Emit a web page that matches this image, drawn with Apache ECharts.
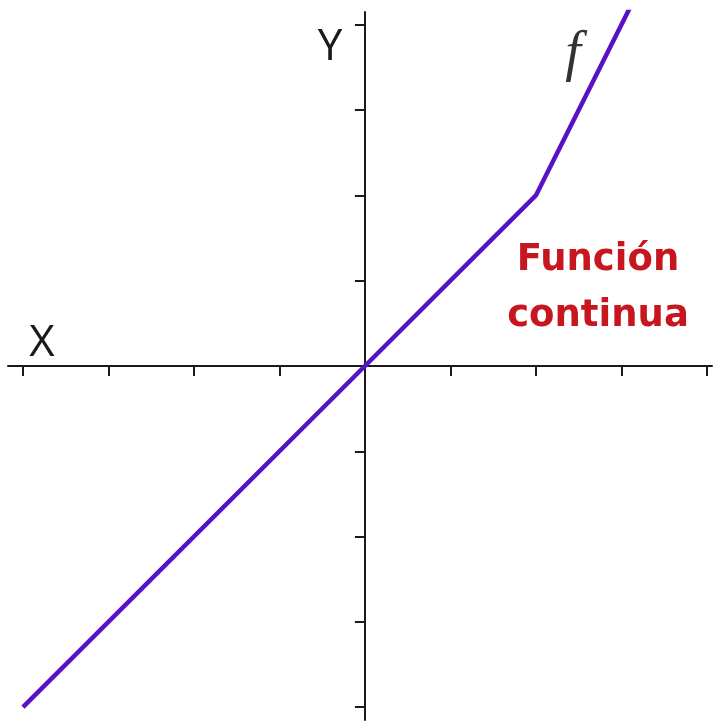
<!DOCTYPE html>
<html>
<head>
<meta charset="utf-8">
<script src="https://cdn.jsdelivr.net/npm/echarts@6/dist/echarts.min.js"></script>
<style>html,body{margin:0;padding:0;background:#fff}#c{width:714px;height:723px}</style>
</head>
<body>
<div id="c"></div>
<script>
const xValues = [-4, 0, 2, 3.1];
const yValues = [-4, 0, 2, 4.2];
const tickValues = [-4, -3, -2, -1, 1, 2, 3, 4];
const axisNames = ['X', 'Y'];
const curveName = 'f';
const titleLines = ['Función', 'continua'];

const chart = echarts.init(document.getElementById('c'));
const axisCommon = {
  type: 'value',
  splitLine: {show: false},
  axisLabel: {show: false},
  axisLine: {show: true, onZero: true, lineStyle: {color: '#1a1a1a', width: 2}},
  axisTick: {show: true, length: 10, customValues: tickValues, lineStyle: {color: '#1a1a1a', width: 2}}
};
function txt(x, y, text, font, fill) {
  return {type: 'text', x: x, y: y, style: {text: text, font: font, fill: fill, align: 'center', verticalAlign: 'middle'}};
}
chart.setOption({
  animation: false,
  backgroundColor: '#ffffff',
  grid: {left: 8, right: 2, top: 12, bottom: 3},
  xAxis: Object.assign({}, axisCommon, {min: -4.175, max: 4.06}),
  yAxis: Object.assign({}, axisCommon, {min: -4.15, max: 4.15}),
  series: [{
    type: 'line',
    data: xValues.map((x, i) => [x, yValues[i]]),
    symbol: 'none',
    lineStyle: {color: '#5812c6', width: 4.5}
  }],
  graphic: [
    txt(42, 343, axisNames[0], '44px "Open Sans", sans-serif', '#1a1a1a'),
    txt(330, 47, axisNames[1], '44px "Open Sans", sans-serif', '#1a1a1a'),
    txt(573, 55, curveName, 'italic 56px "Liberation Serif", serif', '#333'),
    txt(598, 260, titleLines[0], 'bold 37px "DejaVu Sans", sans-serif', '#c8161e'),
    txt(598, 316, titleLines[1], 'bold 37px "DejaVu Sans", sans-serif', '#c8161e')
  ]
});
</script>
</body>
</html>
